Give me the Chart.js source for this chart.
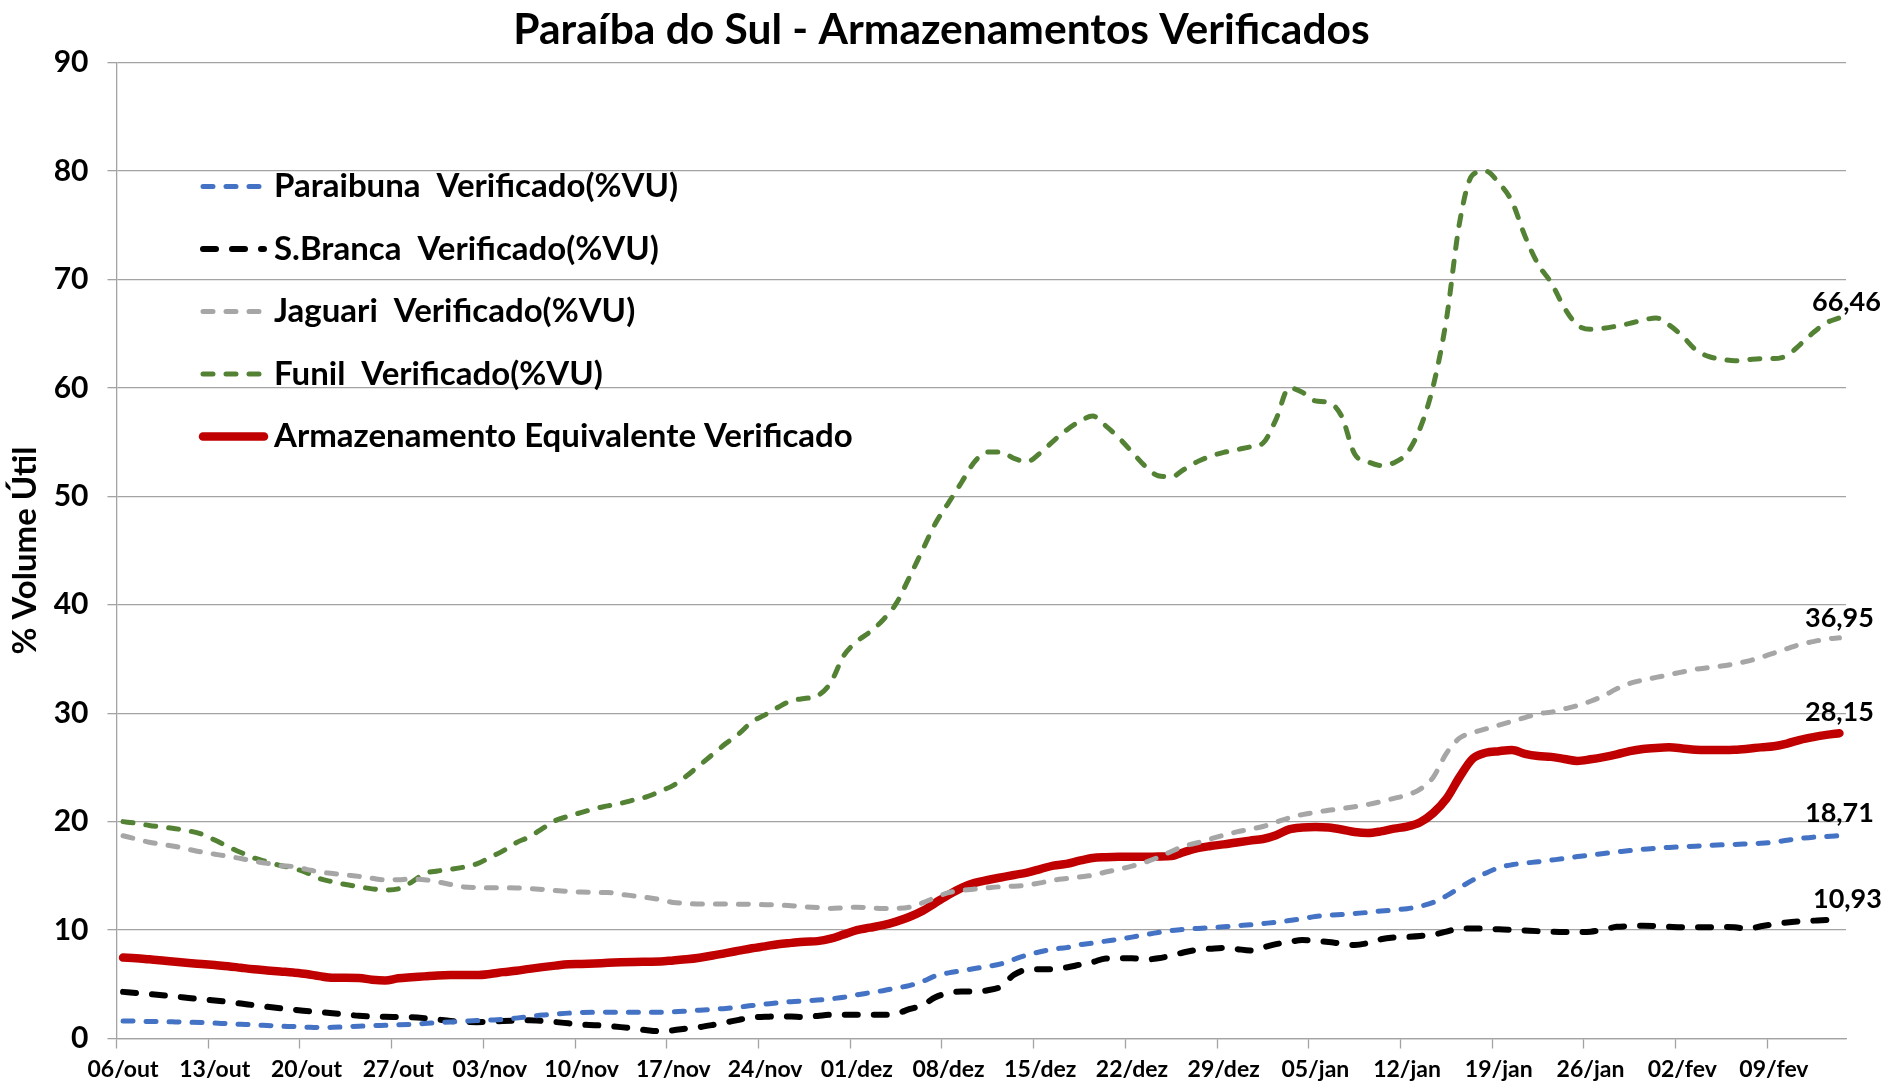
<!DOCTYPE html>
<html>
<head>
<meta charset="utf-8">
<script src="https://cdn.jsdelivr.net/npm/chart.js@4.4.1/dist/chart.umd.min.js"></script>
<style>
  html, body { margin: 0; padding: 0; background: #fff; }
</style>
</head>
<body>
<canvas id="chart" width="1887" height="1087"></canvas>
<script>
// Days from 06/out to 14/fev
const days = [
  '06/out','07/out','08/out','09/out','10/out','11/out','12/out','13/out','14/out','15/out',
  '16/out','17/out','18/out','19/out','20/out','21/out','22/out','23/out','24/out','25/out',
  '26/out','27/out','28/out','29/out','30/out','31/out',
  '01/nov','02/nov','03/nov','04/nov','05/nov','06/nov','07/nov','08/nov','09/nov','10/nov',
  '11/nov','12/nov','13/nov','14/nov','15/nov','16/nov','17/nov','18/nov','19/nov','20/nov',
  '21/nov','22/nov','23/nov','24/nov','25/nov','26/nov','27/nov','28/nov','29/nov','30/nov',
  '01/dez','02/dez','03/dez','04/dez','05/dez','06/dez','07/dez','08/dez','09/dez','10/dez',
  '11/dez','12/dez','13/dez','14/dez','15/dez','16/dez','17/dez','18/dez','19/dez','20/dez',
  '21/dez','22/dez','23/dez','24/dez','25/dez','26/dez','27/dez','28/dez','29/dez','30/dez','31/dez',
  '01/jan','02/jan','03/jan','04/jan','05/jan','06/jan','07/jan','08/jan','09/jan','10/jan',
  '11/jan','12/jan','13/jan','14/jan','15/jan','16/jan','17/jan','18/jan','19/jan','20/jan',
  '21/jan','22/jan','23/jan','24/jan','25/jan','26/jan','27/jan','28/jan','29/jan','30/jan','31/jan',
  '01/fev','02/fev','03/fev','04/fev','05/fev','06/fev','07/fev','08/fev','09/fev','10/fev',
  '11/fev','12/fev','13/fev','14/fev'
];

const paraibuna = [
  1.62,1.60,1.57,1.55,1.53,1.51,1.47,1.42,1.36,1.31,1.26,1.20,1.14,1.10,1.05,1.01,1.03,1.08,1.14,1.18,
  1.22,1.26,1.31,1.38,1.46,1.53,1.59,1.65,1.70,1.76,1.88,2.02,2.16,2.25,2.34,2.39,2.42,2.43,2.43,2.43,
  2.43,2.43,2.46,2.53,2.61,2.69,2.77,2.89,3.04,3.17,3.30,3.40,3.47,3.55,3.66,3.80,4.03,4.22,4.41,4.65,
  4.88,5.25,5.78,6.05,6.25,6.45,6.65,6.88,7.30,7.70,8.00,8.25,8.38,8.65,8.80,8.98,9.16,9.35,9.57,9.78,
  9.95,10.08,10.15,10.22,10.30,10.40,10.48,10.60,10.72,10.88,11.05,11.25,11.36,11.44,11.52,11.63,11.75,11.86,11.97,12.20,
  12.55,13.15,13.90,14.60,15.25,15.75,16.02,16.18,16.30,16.45,16.60,16.78,16.92,17.07,17.20,17.33,17.45,17.54,17.62,17.68,
  17.74,17.80,17.86,17.90,17.95,18.00,18.10,18.28,18.45,18.57,18.63,18.71
];

const sBranca = [
  4.30,4.20,4.10,3.99,3.87,3.74,3.62,3.51,3.37,3.22,3.07,2.92,2.78,2.66,2.53,2.44,2.33,2.21,2.09,2.03,
  2.00,1.99,1.97,1.88,1.75,1.62,1.54,1.51,1.56,1.62,1.65,1.68,1.62,1.52,1.40,1.28,1.23,1.16,1.05,0.91,
  0.76,0.67,0.76,0.92,1.05,1.25,1.48,1.72,1.95,2.00,2.04,2.02,1.98,2.08,2.19,2.19,2.19,2.19,2.19,2.28,
  2.70,3.05,3.80,4.20,4.33,4.33,4.45,4.79,5.87,6.35,6.39,6.40,6.55,6.80,7.05,7.38,7.40,7.40,7.28,7.40,
  7.64,7.95,8.18,8.28,8.36,8.25,8.12,8.40,8.70,8.90,9.08,9.00,8.90,8.75,8.62,8.80,9.15,9.32,9.37,9.45,
  9.58,9.85,10.15,10.15,10.12,10.07,10.02,9.96,9.90,9.85,9.82,9.82,9.85,10.05,10.30,10.35,10.40,10.37,10.30,10.25,
  10.25,10.25,10.28,10.25,10.12,10.35,10.55,10.70,10.80,10.87,10.93,10.93
];

const jaguari = [
  18.70,18.40,18.10,17.90,17.70,17.45,17.20,17.00,16.80,16.60,16.35,16.15,15.95,15.85,15.60,15.35,15.22,15.08,14.95,14.78,
  14.62,14.65,14.70,14.65,14.45,14.20,13.98,13.92,13.90,13.90,13.88,13.83,13.75,13.65,13.57,13.50,13.47,13.46,13.30,13.15,
  13.00,12.80,12.55,12.45,12.40,12.40,12.40,12.38,12.37,12.34,12.31,12.25,12.15,12.08,12.00,12.05,12.10,12.05,12.00,12.00,
  12.10,12.50,13.00,13.45,13.65,13.78,13.90,14.00,14.05,14.15,14.35,14.60,14.75,14.90,15.05,15.35,15.60,15.90,16.25,16.70,
  17.25,17.75,18.05,18.40,18.75,19.05,19.30,19.55,19.95,20.35,20.65,20.85,21.05,21.20,21.38,21.58,21.85,22.15,22.45,23.00,
  24.10,26.30,27.70,28.20,28.55,28.90,29.25,29.60,29.95,30.10,30.40,30.70,31.10,31.60,32.25,32.75,33.05,33.30,33.55,33.80,
  34.05,34.20,34.35,34.55,34.80,35.15,35.55,35.95,36.35,36.60,36.85,36.95
];

const funil = [
  20.00,19.85,19.65,19.50,19.35,19.15,18.85,18.30,17.70,17.15,16.65,16.30,15.95,15.70,15.30,14.75,14.45,14.20,14.00,13.80,
  13.70,13.80,14.40,15.20,15.45,15.60,15.80,16.10,16.70,17.30,18.05,18.60,19.35,20.10,20.50,20.85,21.20,21.45,21.70,22.00,
  22.30,22.80,23.35,24.20,25.20,26.20,27.20,28.10,29.20,29.85,30.55,31.15,31.35,31.60,32.80,35.30,36.60,37.50,38.60,40.10,
  42.50,45.00,47.50,49.40,51.30,53.20,54.10,54.10,53.50,53.20,54.00,55.10,56.10,56.90,57.40,56.50,55.40,54.10,52.80,51.90,
  51.80,52.50,53.20,53.70,54.05,54.30,54.55,54.90,57.10,60.00,59.60,58.80,58.65,57.40,53.90,53.20,52.85,53.10,54.00,56.30,
  60.20,66.30,75.20,79.65,80.00,78.90,77.20,74.00,71.40,69.70,67.40,65.80,65.40,65.50,65.70,65.95,66.25,66.45,65.80,64.80,
  63.55,62.90,62.65,62.50,62.60,62.70,62.70,63.00,64.00,65.10,66.00,66.46
];

const armazenamento = [
  7.46,7.40,7.30,7.20,7.08,6.97,6.87,6.77,6.67,6.52,6.38,6.28,6.18,6.08,5.95,5.75,5.60,5.60,5.58,5.42,
  5.35,5.55,5.65,5.73,5.82,5.85,5.85,5.85,5.95,6.12,6.25,6.42,6.58,6.72,6.84,6.87,6.92,6.98,7.03,7.06,
  7.08,7.10,7.20,7.30,7.45,7.65,7.88,8.10,8.32,8.50,8.70,8.82,8.93,8.98,9.20,9.60,10.00,10.22,10.45,10.78,
  11.20,11.75,12.50,13.25,13.90,14.35,14.62,14.85,15.08,15.30,15.62,15.95,16.10,16.40,16.65,16.72,16.75,16.75,16.75,16.78,
  16.82,17.20,17.55,17.75,17.90,18.08,18.25,18.40,18.75,19.28,19.45,19.50,19.45,19.28,19.05,18.95,19.10,19.35,19.55,19.95,
  20.80,22.10,24.10,25.80,26.35,26.50,26.60,26.25,26.05,25.97,25.78,25.60,25.75,25.95,26.20,26.50,26.70,26.80,26.85,26.75,
  26.62,26.60,26.60,26.62,26.72,26.85,26.95,27.20,27.55,27.80,28.00,28.15
];

const yTicks = [0, 10, 20, 30, 40, 50, 60, 70, 80, 90];

const chartTitle = 'Paraíba do Sul - Armazenamentos Verificados';
const gridGray = '#a3a3a3';
const FONT = 'Lato';

// title centred on the whole canvas
const canvasTitle = {
  id: 'canvasTitle',
  afterDraw(chart) {
    const ctx = chart.ctx;
    ctx.save();
    ctx.font = 'bold 42.5px ' + FONT;
    ctx.fillStyle = '#000';
    ctx.textAlign = 'center';
    ctx.textBaseline = 'middle';
    ctx.fillText(chartTitle, chart.width / 2 - 2, 30);
    ctx.restore();
  }
};

// legend drawn inside the plot, top-left
const insideLegend = {
  id: 'insideLegend',
  afterDraw(chart) {
    const ctx = chart.ctx;
    ctx.save();
    chart.data.datasets.forEach((ds, i) => {
      const y = 186.5 + i * 62.5;
      ctx.beginPath();
      ctx.strokeStyle = ds.borderColor;
      ctx.lineWidth = ds.borderWidth;
      ctx.lineCap = ds.borderCapStyle;
      ctx.setLineDash(ds.borderDash || []);
      ctx.moveTo(203, y);
      ctx.lineTo(264, y);
      ctx.stroke();
      ctx.setLineDash([]);
      ctx.fillStyle = '#000';
      ctx.font = 'bold 33px ' + FONT;
      ctx.textBaseline = 'middle';
      ctx.textAlign = 'left';
      ctx.fillText(ds.label, 274, y);
    });
    ctx.restore();
  }
};

// value of the last point of each line
const lastValues = {
  id: 'lastValues',
  afterDatasetsDraw(chart) {
    const ctx = chart.ctx;
    ctx.save();
    ctx.font = 'bold 27px ' + FONT;
    ctx.fillStyle = '#000';
    ctx.textAlign = 'center';
    ctx.textBaseline = 'middle';
    chart.data.datasets.forEach((ds, i) => {
      const meta = chart.getDatasetMeta(i);
      const pt = meta.data[meta.data.length - 1];
      const v = ds.data[ds.data.length - 1];
      ctx.fillText(v.toFixed(2).replace('.', ','), pt.x + (ds.labelDx || 0), pt.y - (ds.labelDy || 20));
    });
    ctx.restore();
  }
};

Chart.defaults.font.family = FONT;
Chart.defaults.color = '#000';

new Chart(document.getElementById('chart'), {
  type: 'line',
  data: {
    labels: days,
    datasets: [
      {
        label: 'Paraibuna  Verificado(%VU)',
        data: paraibuna,
        borderColor: '#4472c4',
        borderWidth: 5,
        borderDash: [10, 13],
        borderCapStyle: 'round',
        labelDx: 0,
        labelDy: 22
      },
      {
        label: 'S.Branca  Verificado(%VU)',
        data: sBranca,
        borderColor: '#000000',
        borderWidth: 6,
        borderDash: [13, 16],
        borderCapStyle: 'round',
        labelDx: 8,
        labelDy: 21
      },
      {
        label: 'Jaguari  Verificado(%VU)',
        data: jaguari,
        borderColor: '#a6a6a6',
        borderWidth: 5,
        borderDash: [10, 13],
        borderCapStyle: 'round',
        labelDx: 0,
        labelDy: 20
      },
      {
        label: 'Funil  Verificado(%VU)',
        data: funil,
        borderColor: '#548235',
        borderWidth: 5,
        borderDash: [10, 13],
        borderCapStyle: 'round',
        labelDx: 7,
        labelDy: 16
      },
      {
        label: 'Armazenamento Equivalente Verificado',
        data: armazenamento,
        borderColor: '#c00000',
        borderWidth: 8.5,
        borderCapStyle: 'round',
        labelDx: 0,
        labelDy: 21
      }
    ]
  },
  options: {
    responsive: false,
    animation: false,
    layout: { padding: { left: 0, right: 41, top: 62.6, bottom: 0 } },
    elements: {
      point: { radius: 0 },
      line: { cubicInterpolationMode: 'monotone', borderJoinStyle: 'round', fill: false }
    },
    plugins: {
      legend: { display: false },
      tooltip: { enabled: false },
      title: { display: false }
    },
    scales: {
      x: {
        type: 'category',
        offset: true,
        afterFit(scale) { scale.height = 48.5; },
        grid: {
          offset: true,
          drawOnChartArea: false,
          drawTicks: true,
          tickLength: 10,
          tickWidth: 1.3,
          tickColor: (c) => (c.index % 7 === 0 ? gridGray : 'rgba(0,0,0,0)')
        },
        border: { display: true, color: gridGray, width: 1.3 },
        ticks: {
          autoSkip: false,
          maxRotation: 0,
          minRotation: 0,
          padding: 7,
          font: { size: 23, weight: 'bold' },
          callback(value, index) {
            return index % 7 === 0 ? this.getLabelForValue(value) : '';
          }
        }
      },
      y: {
        min: yTicks[0],
        max: yTicks[yTicks.length - 1],
        afterFit(scale) { scale.width = 116.5; },
        afterBuildTicks(scale) { scale.ticks = yTicks.map(v => ({ value: v })); },
        grid: { color: gridGray, lineWidth: 1.3, tickLength: 9, drawTicks: true },
        border: { display: true, color: gridGray, width: 1.3 },
        ticks: { padding: 19, font: { size: 30, weight: 'bold' } },
        title: {
          display: true,
          text: '% Volume Útil',
          font: { size: 33, weight: 'bold' },
          padding: { top: 6, bottom: 0 }
        }
      }
    }
  },
  plugins: [canvasTitle, insideLegend, lastValues]
});
</script>
</body>
</html>
